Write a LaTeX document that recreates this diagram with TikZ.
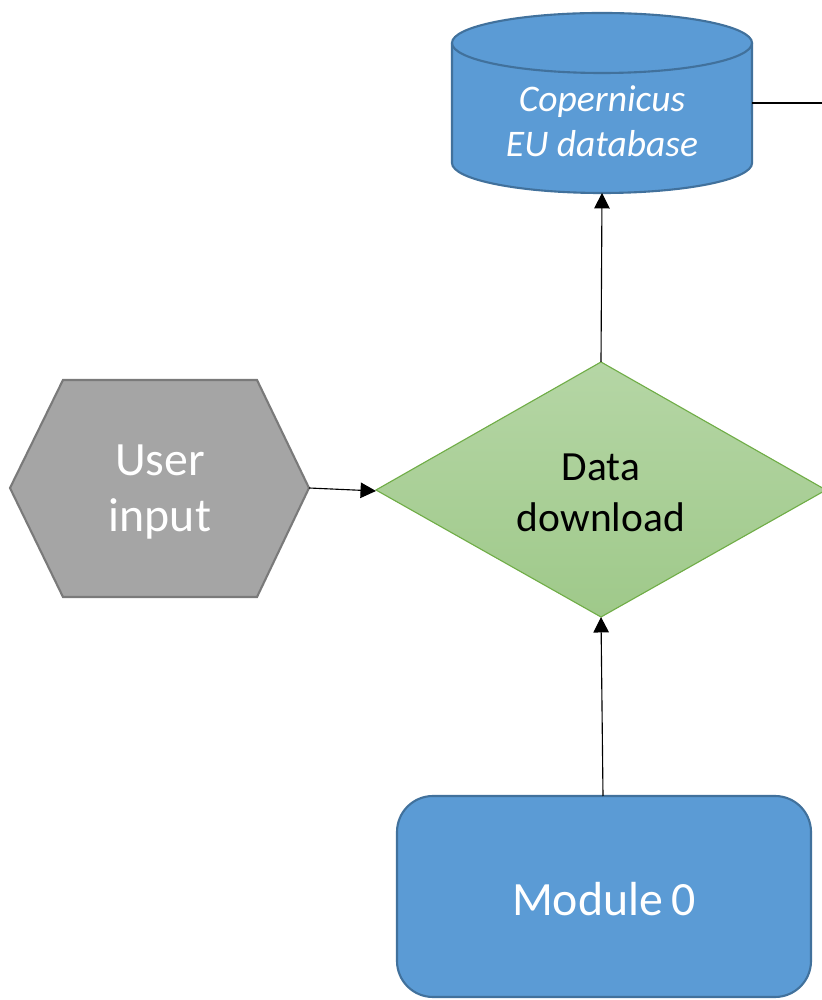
\documentclass[tikz,border=0pt]{standalone}
\usepackage{fontspec}
\setmainfont{Carlito}
\usetikzlibrary{arrows.meta}
\definecolor{blueF}{HTML}{5B9BD5}
\definecolor{blueD}{HTML}{41719C}
\definecolor{grayF}{HTML}{A5A5A5}
\definecolor{grayD}{HTML}{7A7A7A}
\definecolor{greenT}{HTML}{B5D6A5}
\definecolor{greenB}{HTML}{9FC98A}
\definecolor{greenD}{HTML}{70AD47}
\begin{document}
\begin{tikzpicture}[x=0.025cm,y=0.025cm,
  conn/.style={draw=black,line width=0.8pt,-{Triangle[length=11pt,width=11pt]}},
  plain/.style={draw=black,line width=0.8pt},
  bluebox/.style={fill=blueF,draw=blueD,line width=1.5pt},
  lbl/.style={align=center,inner sep=0pt}]
\useasboundingbox (0,0) rectangle (822,1000);

% cylinder (Copernicus EU database)
\fill[blueF] (452,957) -- (452,837) arc[start angle=180,end angle=360,x radius=3.75cm,y radius=0.75cm] -- (752,957) -- cycle;
\fill[blueF] (602,957) ellipse [x radius=3.75cm,y radius=0.75cm];
\draw[blueD,line width=1.5pt] (452,957) -- (452,837) arc[start angle=180,end angle=360,x radius=3.75cm,y radius=0.75cm] -- (752,957);
\draw[blueD,line width=1.5pt] (602,957) ellipse [x radius=3.75cm,y radius=0.75cm];
\node[lbl,text=white,font=\fontsize{26.7}{32}\selectfont\itshape] (cyl) at (602,879) {Copernicus\\EU database};
\coordinate (cylB) at (602,807);
\coordinate (cylR) at (752,897);
\coordinate (offR) at (823,897);

% hexagon (User input)
\draw[fill=grayF,draw=grayD,line width=1.5pt] (10,512) -- (63,620) -- (257,620) -- (309,512) -- (257,403) -- (63,403) -- cycle;
\node[lbl,text=white,font=\fontsize{34}{40.5}\selectfont] (hex) at (160,508) {User\\input};
\coordinate (hexR) at (309,512);

% diamond (Data download)
\shade[top color=greenT,bottom color=greenB] (376,510) -- (601,638) -- (826,510) -- (601,383) -- cycle;
\draw[greenD,line width=0.8pt] (376,510) -- (601,638) -- (826,510) -- (601,383) -- cycle;
\node[lbl,text=black,font=\fontsize{29.5}{36.3}\selectfont] (dia) at (601,507) {Data\\download};
\coordinate (diaL) at (376,509);
\coordinate (diaT) at (601,638);
\coordinate (diaB) at (601,383);

% Module 0
\draw[bluebox,rounded corners=0.9cm] (397,3) rectangle (811,204);
\node[lbl,text=white,font=\fontsize{34}{40}\selectfont] (mod) at (604,101) {Module\hspace{0.18em}0};
\coordinate (modT) at (603,204);

% connectors
\draw[conn] (hexR) -- (diaL);
\draw[conn] (diaT) -- (cylB);
\draw[conn] (modT) -- (diaB);
\draw[plain] (cylR) -- (offR);
\end{tikzpicture}
\end{document}
